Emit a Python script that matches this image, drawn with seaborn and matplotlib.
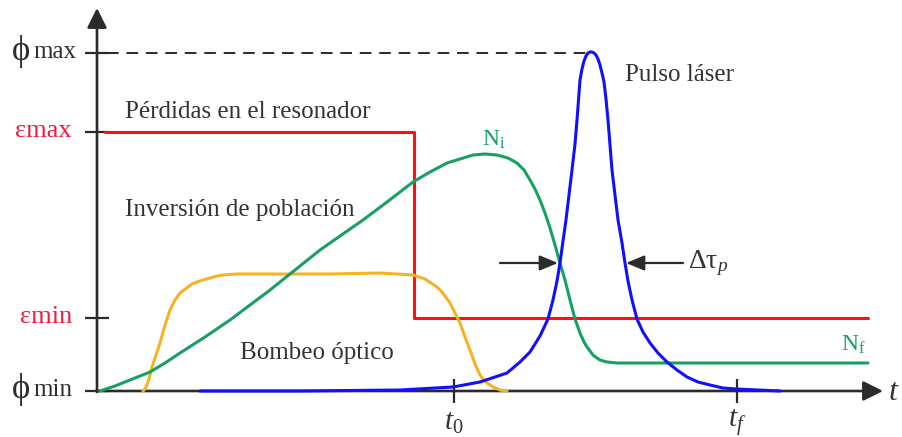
import matplotlib
matplotlib.use("Agg")
import matplotlib.pyplot as plt
import seaborn as sns
import pandas as pd

# Time axis (arbitrary units) and signal levels
level_values = [338, 259, 73, 0]
level_labels = [("ϕ", "max"), ("ε", "max"), ("ε", "min"), ("ϕ", "min")]
level_colors = ["#2e2e2e", "#ee1c3a", "#ee1c3a", "#2e2e2e"]
time_ticks = [357, 640]
time_labels = ["$t_0$", "$t_f$"]

# Resonator losses (step)
loss_t = [8, 317, 317, 771]
loss_v = [259, 259, 73, 73]

# Population inversion
inv_t = [3, 18, 33, 53, 68, 83, 108, 133, 173, 193, 223, 233, 266, 290, 316,
         333, 350, 363, 376, 388, 400, 411, 420, 427, 433, 438, 443, 448, 453,
         458, 463, 468, 473, 478, 483, 487, 490, 493, 496, 500, 503, 510, 520,
         771]
inv_v = [0, 5, 11, 19, 28, 38, 54, 71, 101, 117, 141, 148, 171, 189, 209,
         219, 228, 232, 236, 237, 236, 233, 228, 221, 211, 202, 191, 178, 163,
         146, 128, 111, 91, 72, 58, 49, 44, 40, 36, 33, 31, 29, 28,
         28]

# Optical pumping
pump_t = [46, 48, 50, 52, 55, 58, 63, 68, 73, 78, 83, 87, 91, 95, 100, 106, 113,
          120, 126, 140, 166, 233, 283, 316, 322, 328, 334, 340, 344, 348, 353,
          358, 363, 368, 373, 378, 383, 386, 390, 396, 403, 410]
pump_v = [0, 2, 6, 12, 24, 33, 48, 66, 81, 91, 98, 101, 104, 107, 109, 111, 113,
          115, 116, 117, 117, 117, 118, 116, 114, 112, 108, 104, 100, 95, 88,
          78, 68, 54, 41, 27, 16, 12, 8, 4, 1, 0]

# Laser pulse
pulse_t = [103, 203, 303, 356, 383, 410, 423, 433, 443, 451, 456, 460, 463, 466,
           469, 472, 475, 478, 480, 483, 485, 487, 489, 491, 493, 495, 497, 499,
           501, 503, 505, 507, 509, 511, 513, 515, 518, 521, 525, 528, 531, 535,
           540, 546, 553, 561, 570, 580, 590, 601, 613, 626, 640, 683]
pulse_v = [0, 0, 1, 4, 9, 18, 29, 39, 55, 72, 91, 110, 128, 150,
           171, 196, 221, 247, 271, 311, 322, 330, 335, 338, 339, 339, 338, 336,
           332, 326, 318, 309, 292, 271, 246, 221, 196, 171, 148, 128, 110, 91,
           72, 59, 48, 38, 29, 21, 14, 9, 6, 3, 2, 0]

sns.set_theme(style="white")
plt.rcParams["font.family"] = ["Liberation Serif", "DejaVu Serif"]
plt.rcParams["mathtext.fontset"] = "custom"
plt.rcParams["mathtext.rm"] = "Liberation Serif"
plt.rcParams["mathtext.it"] = "Liberation Serif:italic"

TEXT = "#333333"
AXIS = "#2b2b2b"
GREEN = "#18a064"

fig = plt.figure(figsize=(9.02, 4.37), dpi=100)
ax = fig.add_axes([0, 0, 1, 1])
ax.set_xlim(-97, 805)
ax.set_ylim(-46, 391)

curves = [
    (loss_t, loss_v, "#ff1010"),
    (pump_t, pump_v, "#f5b324"),
    (inv_t, inv_v, GREEN),
    (pulse_t, pulse_v, "#1010ff"),
]
for t, v, c in curves:
    df = pd.DataFrame({"t": t, "v": v})
    sns.lineplot(data=df, x="t", y="v", ax=ax, color=c, lw=2.2,
                 sort=False, estimator=None, zorder=3)

# phi_max reference line
ax.plot([10, 492], [level_values[0]] * 2, color=AXIS, lw=1.4,
        ls=(0, (6, 4)), zorder=2)

# Axes drawn as arrows through the origin
for sp in ax.spines.values():
    sp.set_visible(False)
ax.spines["left"].set_position(("data", 0))
ax.spines["bottom"].set_position(("data", 0))
arrow = dict(arrowstyle="-|>,head_length=1.0,head_width=0.5", color=AXIS,
             lw=1.9, shrinkA=0, shrinkB=0, mutation_scale=12)
ax.annotate("", xy=(0, 383), xytext=(0, -1), arrowprops=arrow, zorder=4)
ax.annotate("", xy=(786, 0), xytext=(-1, 0), arrowprops=arrow, zorder=1)

ax.set_yticks(level_values)
ax.set_yticklabels([])
ax.set_xticks(time_ticks)
ax.set_xticklabels([])
ax.tick_params(axis="both", direction="inout", length=17, width=1.6,
               color=AXIS, left=True, bottom=True)

# Level labels on the vertical axis
for (sym, sub), val, col in zip(level_labels, level_values, level_colors):
    if sym == "ϕ":
        ax.text(-64, val + 1, sub, color=col, fontsize=18, ha="left",
                va="center")
        ax.text(-76, val + 1, sym, color=col, fontsize=25, ha="center",
                va="center")
    else:
        ax.text(-25, val + 1, sym + sub, color=col, fontsize=19, ha="right",
                va="center")

# Time labels
for tt, lab in zip(time_ticks, time_labels):
    ax.text(tt, -32, lab, color=TEXT, fontsize=21, ha="center", va="center")
ax.text(797, -1, "$t$", color=TEXT, fontsize=23, ha="center", va="center")

# Curve annotations
ax.text(28, 279, "Pérdidas en el resonador", color=TEXT, fontsize=18,
        va="center")
ax.text(28, 181, "Inversión de población", color=TEXT, fontsize=18,
        va="center")
ax.text(143, 38, "Bombeo óptico", color=TEXT, fontsize=18, va="center")
ax.text(528, 316, "Pulso láser", color=TEXT, fontsize=18, va="center")
ax.text(385, 251, "N$_\\mathrm{i}$", color=GREEN, fontsize=17, va="center")
ax.text(744, 46, "N$_\\mathrm{f}$", color=GREEN, fontsize=17, va="center")
ax.text(591, 128, "Δτ$_p$", color=TEXT, fontsize=20, va="center")

# Pulse width markers
head = dict(arrowstyle="-|>,head_length=0.85,head_width=0.35", color=AXIS,
            lw=1.6, shrinkA=0, shrinkB=0, mutation_scale=13)
ax.annotate("", xy=(461, 128), xytext=(403, 128), arrowprops=head, zorder=5)
ax.annotate("", xy=(529, 128), xytext=(586, 128), arrowprops=head, zorder=5)

ax.set_xlabel("")
ax.set_ylabel("")
fig.savefig("out.png", dpi=100)
